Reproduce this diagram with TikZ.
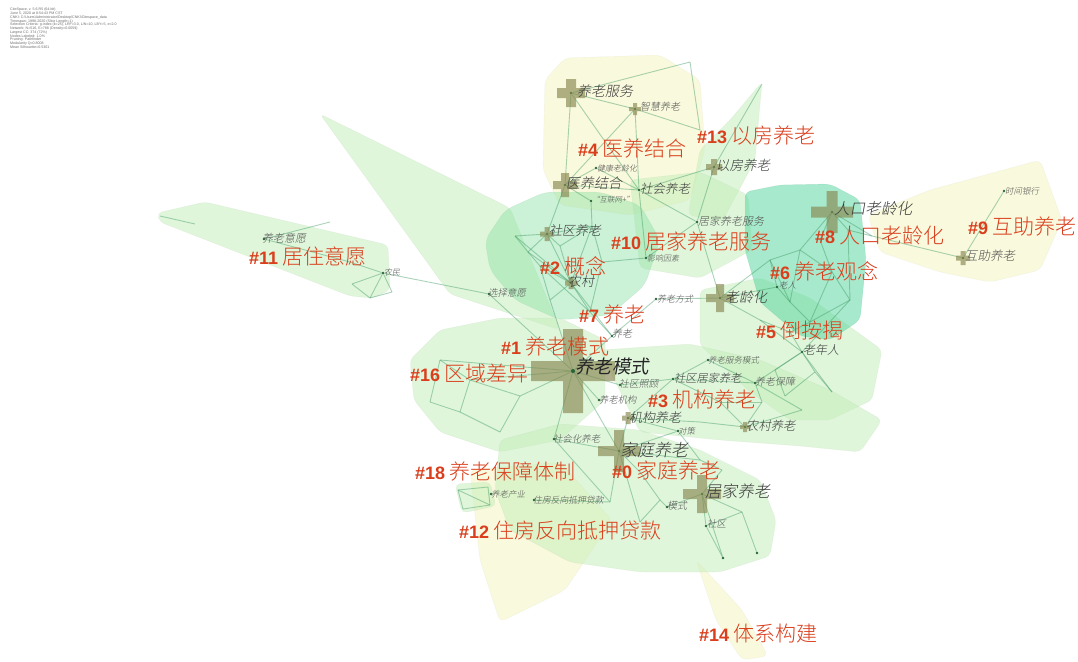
\documentclass[tikz,border=0pt]{standalone}
\usepackage{fontspec}
\setmainfont{Liberation Sans}
\newfontfamily\cjk{Noto Sans CJK SC Light}
\newfontfamily\cjki{Noto Sans CJK SC}[FakeSlant=0.18]
\newfontfamily\cjkil{Noto Sans CJK SC Light}[FakeSlant=0.18]
\newfontfamily\numfont{Liberation Sans}
\definecolor{clred}{RGB}{218,62,28}
\definecolor{lbldark}{RGB}{55,55,55}
\definecolor{lblgray}{RGB}{80,80,80}
\definecolor{hdrgray}{RGB}{110,110,110}
\definecolor{edgec}{RGB}{55,150,95}
\definecolor{dotc}{RGB}{40,100,55}
\definecolor{crossc}{RGB}{135,135,80}
\definecolor{hgc}{RGB}{195,238,185}
\definecolor{hg2c}{RGB}{140,225,165}
\definecolor{hyc}{RGB}{248,248,210}
\definecolor{htc}{RGB}{80,212,155}
\tikzset{
  pics/xcr/.style args={#1/#2}{code={\fill[crossfill] (-#1,-#2) -- (-#2,-#2) -- (-#2,-#1) -- (#2,-#1) -- (#2,-#2) -- (#1,-#2) -- (#1,#2) -- (#2,#2) -- (#2,#1) -- (-#2,#1) -- (-#2,#2) -- (-#1,#2) -- cycle;}},
  crossfill/.style={fill=crossc, fill opacity=0.65},
  hullg/.style={fill=hgc, fill opacity=0.5, draw=hgc!80!black, draw opacity=0.15, line width=0.4pt, rounded corners=5pt},
  hullgg/.style={fill=hg2c, fill opacity=0.45, draw=hg2c!80!black, draw opacity=0.15, line width=0.4pt, rounded corners=8pt},
  hully/.style={fill=hyc, fill opacity=0.75, draw=hyc!85!black, draw opacity=0.2, line width=0.4pt, rounded corners=6pt},
  hullt/.style={fill=htc, fill opacity=0.5, draw=htc!80!black, draw opacity=0.2, line width=0.4pt, rounded corners=6pt},
  lk/.style={draw=edgec, draw opacity=0.42, line width=0.9pt},
  dot/.style={circle, inner sep=0pt, minimum size=2.6pt, fill=dotc},
  clab/.style={anchor=west, inner sep=0pt, text=clred},
  nlab/.style={anchor=west, inner sep=0pt, text=lbldark},
  slab/.style={anchor=west, inner sep=0pt, text=lblgray},
}
\newcommand\clt[2]{{\fontsize{18}{18}\selectfont\numfont\bfseries\##1}\hspace{4pt}{\fontsize{21}{21}\selectfont\cjk #2}}
\newcommand\nlt[2]{\fontsize{#1}{#1}\selectfont\cjki #2}
\newcommand\slt[2]{\fontsize{#1}{#1}\selectfont\cjkil #2}
\begin{document}
\begin{tikzpicture}[x=1pt,y=-1pt]
\useasboundingbox (0,0) rectangle (1078,661);
\fill[white] (0,0) rectangle (1078,661);

% header
\node[anchor=north west, inner sep=0pt, align=left, text=hdrgray, font=\fontsize{3.6}{3.75}\selectfont] (hdr) at (10,8) {CiteSpace, v. 5.6.R5 (64-bit)\\June 5, 2020 at 8:54:43 PM CST\\CNKI: C:\textbackslash Users\textbackslash Administrator\textbackslash Desktop\textbackslash CNKI\textbackslash Citespace\_data\\Timespan: 1998-2020 (Slice Length=1)\\Selection Criteria: g-index (k=25), LRF=3.0, L/N=10, LBY=5, e=2.0\\Network: N=516, E=788 (Density=0.0059)\\Largest CC: 374 (72\%)\\Nodes Labeled: 1.0\%\\Pruning: Pathfinder\\Modularity Q=0.8008\\Mean Silhouette=0.5301};

% ---------- hulls ----------
\fill[hully] (545,80) -- (565,58) -- (660,55) -- (700,80) -- (705,150) -- (690,200) -- (630,215) -- (560,205) -- (543,170) -- cycle;
\fill[hully] (868,215) -- (930,190) -- (1040,160) -- (1062,220) -- (1040,270) -- (990,282) -- (940,272) -- (880,252) -- cycle;
\fill[hully] (470,470) -- (560,462) -- (612,520) -- (565,590) -- (500,622) -- (480,560) -- cycle;
\fill[hully] (696,560) -- (742,610) -- (768,656) -- (742,660) -- (716,620) -- cycle;
\fill[hullg] (762,82) -- (730,120) -- (700,150) -- (688,215) -- (722,222) -- (755,160) -- cycle;
\fill[hullg] (320,114) -- (510,208) -- (560,330) -- (450,294) -- cycle;
\fill[hullg] (157,213) -- (205,202) -- (388,245) -- (390,290) -- (372,298) -- (350,296) -- (160,222) -- cycle;
\fill[hullg] (630,180) -- (700,172) -- (748,195) -- (752,250) -- (700,278) -- (640,268) -- cycle;
\fill[hullgg] (485,240) -- (505,210) -- (545,192) -- (600,192) -- (640,205) -- (660,240) -- (645,285) -- (610,315) -- (560,320) -- (515,300) -- (490,270) -- cycle;
\fill[hullg] (410,360) -- (440,330) -- (500,318) -- (560,318) -- (605,340) -- (605,400) -- (560,440) -- (500,452) -- (440,432) -- (414,400) -- cycle;
\fill[hullg] (700,290) -- (760,278) -- (810,298) -- (882,350) -- (872,400) -- (830,420) -- (790,420) -- (750,392) -- (700,345) -- cycle;
\fill[hullg] (600,350) -- (690,344) -- (760,360) -- (830,390) -- (882,420) -- (860,452) -- (800,446) -- (720,440) -- (640,432) -- cycle;
\fill[hullg] (500,440) -- (560,424) -- (640,430) -- (700,450) -- (760,480) -- (776,520) -- (770,556) -- (720,572) -- (640,572) -- (570,562) -- (510,530) -- (495,490) -- cycle;
\fill[hullg] (455,484) -- (490,482) -- (496,506) -- (462,513) -- cycle;
\fill[hullt] (745,192) -- (780,185) -- (830,184) -- (860,200) -- (866,260) -- (860,320) -- (830,340) -- (800,336) -- (760,302) -- (745,250) -- cycle;

% ---------- network nodes ----------
\node[dot] (fw) at (571,93) {};
\node[dot] (zh) at (635,109) {};
\node[dot] (jk) at (596,168) {};
\node[dot] (yy) at (565,185) {};
\node[dot] (hl) at (591,201) {};
\node[dot] (sh) at (639,190) {};
\node[dot] (yf) at (714,167) {};
\node[dot] (jjs) at (697,222) {};
\node[dot] (sq) at (547,234) {};
\node[dot] (yx) at (646,258) {};
\node[dot] (nc) at (571,283) {};
\node[dot] (fs) at (656,299) {};
\node[dot] (lh) at (720,298) {};
\node[dot] (lr) at (777,287) {};
\node[dot] (rk) at (832,212) {};
\node[dot] (sj) at (1004,191) {};
\node[dot] (hz) at (963,258) {};
\node[dot] (yw) at (264,239) {};
\node[dot] (nm) at (383,273) {};
\node[dot] (xz) at (489,294) {};
\node[dot] (yl) at (612,336) {};
\node[dot] (ms) at (573,371) {};
\node[dot] (fwms) at (708,360) {};
\node[dot] (lnr) at (802,352) {};
\node[dot] (sqzg) at (620,385) {};
\node[dot] (sqjj) at (673,379) {};
\node[dot] (bz) at (755,383) {};
\node[dot] (jg) at (599,400) {};
\node[dot] (jgyl) at (628,418) {};
\node[dot] (dc) at (678,431) {};
\node[dot] (ncyl) at (745,427) {};
\node[dot] (shh) at (554,439) {};
\node[dot] (jt) at (619,451) {};
\node[dot] (jj) at (702,494) {};
\node[dot] (cy) at (491,494) {};
\node[dot] (zf) at (534,500) {};
\node[dot] (mo) at (667,507) {};
\node[dot] (sqq) at (706,526) {};
\node[dot] (x1) at (723,558) {};
\node[dot] (x2) at (757,553) {};

% mesh coordinates
\coordinate (t1) at (690,62); \coordinate (t2) at (700,130); \coordinate (t3) at (762,84);
\coordinate (a1) at (515,236); \coordinate (a2) at (528,252); \coordinate (a3) at (540,266);
\coordinate (a4) at (560,246); \coordinate (a5) at (592,226); \coordinate (a6) at (602,262);
\coordinate (a7) at (550,300); \coordinate (a8) at (590,312);
\coordinate (b1) at (440,360); \coordinate (b2) at (470,380); \coordinate (b3) at (460,412);
\coordinate (b4) at (520,396); \coordinate (b5) at (500,432); \coordinate (b6) at (430,402);
\coordinate (c1) at (800,250); \coordinate (c2) at (820,240); \coordinate (c3) at (832,272);
\coordinate (c4) at (850,300); \coordinate (c5) at (810,322); \coordinate (c6) at (790,302);
\coordinate (c7) at (770,260); \coordinate (c8) at (848,230);
\coordinate (d1) at (760,320); \coordinate (d2) at (790,332); \coordinate (d3) at (815,372);
\coordinate (d4) at (832,392); \coordinate (d5) at (785,396); \coordinate (d6) at (775,370);
\coordinate (e1) at (720,402); \coordinate (e2) at (762,402); \coordinate (e3) at (802,410); \coordinate (e4) at (700,422);
\coordinate (f1) at (640,472); \coordinate (f2) at (660,500); \coordinate (f3) at (640,522);
\coordinate (f4) at (722,470); \coordinate (f5) at (742,512); \coordinate (f6) at (700,460); \coordinate (f7) at (610,502);
\coordinate (g1) at (330,222); \coordinate (g2) at (350,262); \coordinate (g3) at (370,298);
\coordinate (g4) at (392,292); \coordinate (g5) at (160,216); \coordinate (g6) at (352,284); \coordinate (g7) at (195,224);
\coordinate (h1) at (458,490); \coordinate (h2) at (488,487); \coordinate (h3) at (490,505); \coordinate (h4) at (463,509);
\coordinate (k1) at (872,236);

% ---------- edges ----------
\foreach \a/\b in {fw/zh, fw/yy, zh/yy, yy/jk, yy/hl, yy/sh, sh/jk, fw/sh, zh/sh, fw/t1, t1/t2, zh/t2,
  yf/t3, yf/jjs, yf/sh,
  sq/a1, a1/a2, a2/a3, a3/nc, sq/nc, a1/nc, a2/nc, sq/a4, a4/a5, a5/nc, a3/a7, a7/nc, nc/a8, a8/a6, a6/a5, sq/a5, a4/nc, yy/sq, hl/a5, sq/a2, a3/a8,
  sh/jjs, jjs/yx, yx/a6, sh/yx, jjs/lh,
  yl/ms, yl/fs, fs/lh, yl/a8, nc/yl,
  rk/c1, rk/c2, rk/c8, c1/c3, c2/c3, c3/c4, c4/c5, c5/c6, c6/c7, c7/c1, c1/c6, c3/c5, c8/c4, lr/c7, lr/c6, lr/lh, rk/k1, k1/hz, hz/sj, c8/k1, lh/c7, lh/d1,
  lnr/d1, lnr/d2, lnr/d3, lnr/d4, d3/d5, d5/d6, d6/lnr, d4/d3, d1/d2, lnr/bz, d2/c5, lnr/c4,
  sqjj/bz, sqjj/e1, e1/e2, e2/ncyl, ncyl/e3, e3/bz, bz/e2, e1/ncyl, jgyl/sqjj, jgyl/e4, e4/ncyl, jgyl/dc, fwms/sqjj, fwms/bz,
  ms/b1, ms/b2, ms/b4, b1/b2, b2/b3, b3/b6, b6/b1, b4/b5, b5/b3, b2/b4, ms/sqzg, ms/jg, ms/shh, ms/jt, ms/a7, ms/xz, sqzg/sqjj,
  jt/f1, jt/f7, f1/f2, f2/f3, f3/jt, jt/f6, f6/f4, f4/jj, jj/f5, f5/sqq, jj/mo, mo/f2, jj/sqq, jt/jgyl, jt/dc, jt/shh, jj/x1, sqq/x1, f5/x2, shh/f7, zf/f7, dc/f6,
  yw/g1, yw/g2, g2/nm, nm/g3, g3/g4, g4/nm, g3/g6, g6/nm, nm/xz, g5/g7,
  h1/h2, h2/h3, h3/h4, h4/h1, h1/h3}
  \draw[lk] (\a) -- (\b);

% ---------- crosses (node size) ----------
\pic at (573,371) {xcr=42/10};
\pic at (619,451) {xcr=21/5};
\pic at (702,494) {xcr=19/5};
\pic at (832,212) {xcr=21/5.5};
\pic at (720,298) {xcr=14/4};
\pic at (571,93) {xcr=14/5};
\pic at (565,185) {xcr=12/4};
\pic at (714,167) {xcr=8/3};
\pic at (635,109) {xcr=6/2};
\pic at (547,234) {xcr=7/2.5};
\pic at (571,283) {xcr=6/2.5};
\pic at (963,258) {xcr=7/2.5};
\pic at (628,418) {xcr=6/2.5};
\pic at (745,427) {xcr=5/2};
\node[dot, minimum size=4pt] (msc) at (573,371) {};

% ---------- node labels ----------
\node[nlab] (fw-l) at (577,91) {\slt{14}{养老服务}};
\node[slab] (zh-l) at (640,107) {\slt{10}{智慧养老}};
\node[slab] (jk-l) at (597,168) {\slt{8}{健康老龄化}};
\node[nlab] (yy-l) at (566,183) {\slt{14}{医养结合}};
\node[slab] (hl-l) at (592,200) {\slt{7.5}{“互联网+”}};
\node[nlab] (sh-l) at (640,189) {\slt{12.5}{社会养老}};
\node[nlab] (yf-l) at (716,165) {\slt{13.5}{以房养老}};
\node[slab] (jjs-l) at (698,221) {\slt{11}{居家养老服务}};
\node[nlab] (sq-l) at (549,231) {\slt{13}{社区养老}};
\node[slab] (yx-l) at (647,258) {\slt{8}{影响因素}};
\node[nlab] (nc-l) at (568,282) {\slt{13}{农村}};
\node[slab] (fs-l) at (657,299) {\slt{9}{养老方式}};
\node[nlab] (lh-l) at (725,297) {\slt{14}{老龄化}};
\node[slab] (lr-l) at (779,285) {\slt{8.5}{老人}};
\node[nlab] (rk-l) at (834,209) {\slt{15.6}{人口老龄化}};
\node[slab] (sj-l) at (1005,191) {\slt{8.5}{时间银行}};
\node[slab] (hz-l) at (965,256) {\slt{12.5}{互助养老}};
\node[slab] (yw-l) at (262,238) {\slt{11}{养老意愿}};
\node[slab] (nm-l) at (384,272) {\slt{8}{农民}};
\node[slab] (xz-l) at (488,293) {\slt{9.5}{选择意愿}};
\node[slab] (yl-l) at (612,334) {\slt{10}{养老}};
\node[nlab, text=black!85] (ms-l) at (575,366) {\nlt{18.5}{养老模式}};
\node[slab] (fwms-l) at (708,360) {\slt{8.5}{养老服务模式}};
\node[nlab] (lnr-l) at (803,350) {\slt{12}{老年人}};
\node[slab] (sqzg-l) at (619,384) {\slt{9.8}{社区照顾}};
\node[nlab] (sqjj-l) at (674,378) {\slt{11.2}{社区居家养老}};
\node[slab] (bz-l) at (755,382) {\slt{10}{养老保障}};
\node[slab] (jg-l) at (599,400) {\slt{9.3}{养老机构}};
\node[nlab] (jgyl-l) at (629,418) {\slt{13}{机构养老}};
\node[slab] (dc-l) at (678,431) {\slt{8.5}{对策}};
\node[nlab] (ncyl-l) at (746,426) {\slt{12.3}{农村养老}};
\node[slab] (shh-l) at (553,439) {\slt{9.4}{社会化养老}};
\node[nlab] (jt-l) at (620,450) {\slt{17}{家庭养老}};
\node[nlab] (jj-l) at (705,491) {\slt{16.2}{居家养老}};
\node[slab] (cy-l) at (491,494) {\slt{8.5}{养老产业}};
\node[slab] (zf-l) at (533,500) {\slt{8.8}{住房反向抵押贷款}};
\node[slab] (mo-l) at (667,506) {\slt{10}{模式}};
\node[slab] (sqq-l) at (707,524) {\slt{9.5}{社区}};

% ---------- cluster labels ----------
\node[clab] (c4l) at (578,149) {\clt{4}{医养结合}};
\node[clab] (c13l) at (697,136) {\clt{13}{以房养老}};
\node[clab] (c10l) at (611,242) {\clt{10}{居家养老服务}};
\node[clab] (c8l) at (815,236) {\clt{8}{人口老龄化}};
\node[clab] (c9l) at (968,227) {\clt{9}{互助养老}};
\node[clab] (c11l) at (249,256) {\clt{11}{居住意愿}};
\node[clab] (c2l) at (540,266) {\clt{2}{概念}};
\node[clab] (c6l) at (770,271) {\clt{6}{养老观念}};
\node[clab] (c7l) at (579,315) {\clt{7}{养老}};
\node[clab] (c5l) at (756,331) {\clt{5}{倒按揭}};
\node[clab] (c1l) at (501,347) {\clt{1}{养老模式}};
\node[clab] (c16l) at (410,374) {\clt{16}{区域差异}};
\node[clab] (c3l) at (648,400) {\clt{3}{机构养老}};
\node[clab] (c18l) at (415,472) {\clt{18}{养老保障体制}};
\node[clab] (c0l) at (612,471) {\clt{0}{家庭养老}};
\node[clab] (c12l) at (459,531) {\clt{12}{住房反向抵押贷款}};
\node[clab] (c14l) at (699,634) {\clt{14}{体系构建}};
\end{tikzpicture}
\end{document}
